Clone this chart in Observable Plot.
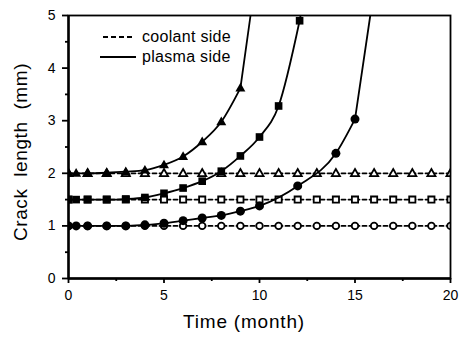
<!DOCTYPE html>
<html><head><meta charset="utf-8">
<script src="https://cdn.jsdelivr.net/npm/d3@7"></script>
<script src="https://cdn.jsdelivr.net/npm/@observablehq/plot@0.6"></script>
<style>
body{margin:0;background:#fff;}
#chart{position:relative;width:465px;height:337px;font-family:"Liberation Sans",Arial,Helvetica,sans-serif;color:#000;}
#legend{position:absolute;left:98px;top:27px;font-size:16px;line-height:20px;letter-spacing:0.3px;}
#legend div{display:flex;align-items:center;height:20px;}
#legend svg{margin-right:6px;}
#ylab{position:absolute;left:21px;top:152px;transform:translate(-50%,-50%) rotate(-90deg);white-space:pre;font-size:19px;letter-spacing:0.6px;}
#xlab{position:absolute;left:244px;top:322px;transform:translate(-50%,-50%);white-space:pre;font-size:19px;letter-spacing:0.8px;}
</style></head><body><div id="chart"><div id="legend"></div><div id="ylab"></div><div id="xlab"></div></div>
<script>
// ---- data ----
const coolantMonths = [0,1,2,3,4,5,6,7,8,9,10,11,12,13,14,15,16,17,18,19,20];
const coolantCircle = 1.0, coolantSquare = 1.5, coolantTriangle = 2.0;

const triMonths = [0,0.4,1,2,3,4,5,6,7,8,9];
const triValues = [2.0,2.0,2.0,2.01,2.03,2.06,2.16,2.32,2.6,2.98,3.62];
const triTop = 9.53;

const sqMonths = [0,0.4,1,2,3,4,5,6,7,8,9,10,11,12.1];
const sqValues = [1.5,1.5,1.5,1.5,1.51,1.54,1.62,1.72,1.85,2.04,2.33,2.69,3.28,4.9];
const sqTop = 12.15;

const ciMonths = [0,0.4,1,2,3,4,5,6,7,8,9,10,12,14,15];
const ciValues = [1.0,1.0,1.0,1.0,1.0,1.02,1.05,1.1,1.15,1.2,1.28,1.38,1.76,2.38,3.03];
const ciTop = 15.8;
const yMax = 5;

const yTicks = [0,1,2,3,4,5];
const yMinor = [0.5,1.5,2.5,3.5,4.5];
const xTicks = [0,5,10,15,20];
const xMinor = [2.5,7.5,12.5,17.5];

const legendLabels = ["coolant side","plasma side"];
const xLabel = "Time (month)";
const yLabel = "Crack  length  (mm)";

// ---- build ----
const pts = (ms, vs) => ms.map((m,i)=>({x:m,y:vs[i]}));
const tri = pts(triMonths, triValues);
const sq = pts(sqMonths, sqValues);
const ci = pts(ciMonths, ciValues);
const tail = (arr, top) => [arr[arr.length-1], {x:top, y:yMax}];
const flat = v => coolantMonths.map(m=>({x:m,y:v}));

// triangle symbol: size is area (r*r*pi), convert back to a radius
const triangle = {draw(ctx, size){ const r=Math.sqrt(size/Math.PI); const h=r*1.25; ctx.moveTo(0,-h); ctx.lineTo(h*0.95,h*0.65); ctx.lineTo(-h*0.95,h*0.65); ctx.closePath(); }};

const lw = 1.8;
const dash = "4,3";
const plot = Plot.plot({
  width: 465, height: 337,
  marginLeft: 68, marginRight: 15, marginTop: 15, marginBottom: 59,
  x: {domain:[0,20]},
  y: {domain:[0,5]},
  style: {fontFamily:'"Liberation Sans",Arial,Helvetica,sans-serif', fontSize:"14px", color:"#000", background:"#fff"},
  marks: [
    // coolant side (dashed, open markers)
    Plot.line(flat(coolantCircle), {x:"x", y:"y", stroke:"black", strokeWidth:lw, strokeDasharray:dash, clip:"frame"}),
    Plot.line(flat(coolantSquare), {x:"x", y:"y", stroke:"black", strokeWidth:lw, strokeDasharray:dash, clip:"frame"}),
    Plot.line(flat(coolantTriangle), {x:"x", y:"y", stroke:"black", strokeWidth:lw, strokeDasharray:dash, clip:"frame"}),
    Plot.dot(flat(coolantCircle), {x:"x", y:"y", r:3.3, symbol:"circle", fill:"white", stroke:"black", strokeWidth:1.8, clip:"frame"}),
    Plot.dot(flat(coolantSquare), {x:"x", y:"y", r:3.5, symbol:"square", fill:"white", stroke:"black", strokeWidth:1.8, clip:"frame"}),
    Plot.dot(flat(coolantTriangle), {x:"x", y:"y", r:3.4, symbol:triangle, fill:"white", stroke:"black", strokeWidth:1.8, clip:"frame"}),
    // plasma side (solid, filled markers)
    Plot.line(ci, {x:"x", y:"y", curve:"monotone-x", stroke:"black", strokeWidth:lw, clip:"frame"}),
    Plot.line(tail(ci,ciTop), {x:"x", y:"y", stroke:"black", strokeWidth:lw, clip:"frame"}),
    Plot.line(sq, {x:"x", y:"y", curve:"monotone-x", stroke:"black", strokeWidth:lw, clip:"frame"}),
    Plot.line(tail(sq,sqTop), {x:"x", y:"y", stroke:"black", strokeWidth:lw, clip:"frame"}),
    Plot.line(tri, {x:"x", y:"y", curve:"monotone-x", stroke:"black", strokeWidth:lw, clip:"frame"}),
    Plot.line(tail(tri,triTop), {x:"x", y:"y", stroke:"black", strokeWidth:lw, clip:"frame"}),
    Plot.dot(ci, {x:"x", y:"y", r:4.5, symbol:"circle", fill:"black", clip:"frame"}),
    Plot.dot(sq, {x:"x", y:"y", r:4.3, symbol:"square", fill:"black", clip:"frame"}),
    Plot.dot(tri, {x:"x", y:"y", r:4.2, symbol:triangle, fill:"black", clip:"frame"}),
    // frame and axes
    Plot.frame({stroke:"black", strokeWidth:1.8}),
    Plot.ruleX([0], {stroke:"black", strokeWidth:2.4}),
    Plot.ruleY([0], {stroke:"black", strokeWidth:2.4}),
    Plot.axisY({ticks:yTicks, tickSize:6, tickPadding:7, tickFormat:d=>String(d), strokeWidth:1.8, fontSize:14, label:null}),
    Plot.axisY({ticks:yMinor, tickSize:3, text:null, strokeWidth:1.8, label:null}),
    Plot.axisX({ticks:xTicks, tickSize:5, tickPadding:7, tickFormat:d=>String(d), strokeWidth:1.8, fontSize:14, label:null, style:{letterSpacing:"3px"}}),
    Plot.axisX({ticks:xMinor, tickSize:3, text:null, strokeWidth:1.8, label:null})
  ]
});
document.getElementById("chart").appendChild(plot);
document.getElementById("xlab").textContent = xLabel;
document.getElementById("ylab").textContent = yLabel;

// legend
const lg = document.getElementById("legend");
legendLabels.forEach((lab,i)=>{
  const row = document.createElement("div");
  const s = d3.create("svg").attr("width",38).attr("height",10);
  s.append("line").attr("x1",i===0?5:2).attr("x2",i===0?37:38).attr("y1",5).attr("y2",5)
    .attr("stroke","black").attr("stroke-width",2).attr("stroke-dasharray",i===0?"5,3":null);
  row.appendChild(s.node());
  const t = document.createElement("span"); t.textContent = lab; row.appendChild(t);
  lg.appendChild(row);
});
</script>
</body></html>
